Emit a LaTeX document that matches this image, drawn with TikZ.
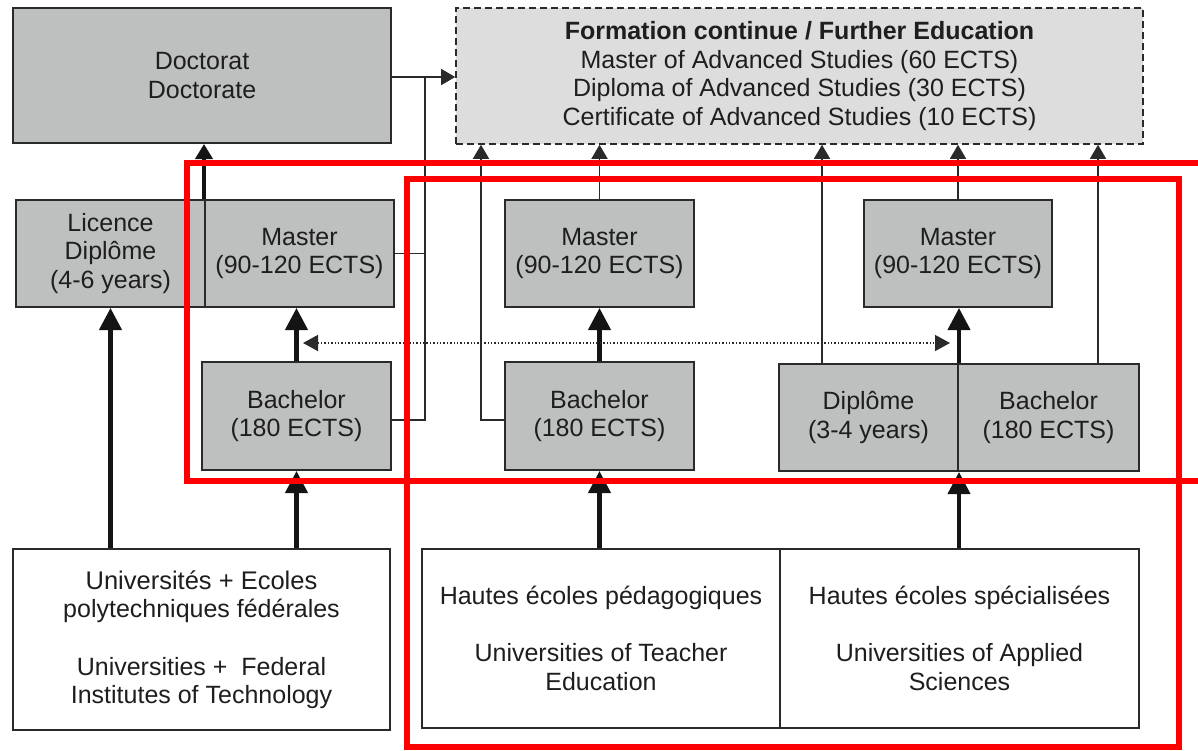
\documentclass[tikz,border=0pt]{standalone}
\usepackage{fontspec}
\setmainfont{Liberation Sans}
\usetikzlibrary{arrows.meta}
\definecolor{boxgray}{HTML}{BEC0BF}
\definecolor{fegray}{HTML}{DCDDDC}
\definecolor{edgecol}{HTML}{2A2A2A}
\definecolor{txtcol}{HTML}{1E1E1E}
\definecolor{redframe}{HTML}{FF0000}
\begin{document}
\begin{tikzpicture}[x=1pt,y=-1pt,
  every node/.style={font=\fontsize{25}{28.5}\selectfont, text=txtcol, align=center, inner sep=0pt},
  box/.style={draw=edgecol, line width=2pt, fill=boxgray, rectangle},
  febox/.style={draw=edgecol, line width=1.6pt, fill=fegray, dash pattern=on 7pt off 4pt, rectangle},
  whitebox/.style={draw=edgecol, line width=2pt, fill=white, rectangle},
  thinline/.style={draw=edgecol, line width=1.5pt},
  thinarrow/.style={draw=edgecol, line width=1.5pt, -{Triangle[width=16pt,length=14pt]}},
  thickarrow/.style={draw=black!92, line width=4.2pt, -{Triangle[width=22pt,length=22pt]}},
  doctarrow/.style={draw=black!92, line width=4.2pt, -{Triangle[width=17pt,length=15pt]}},
  dotline/.style={draw=edgecol, line width=1.4pt, dotted, {Triangle[width=16pt,length=15pt]}-{Triangle[width=16pt,length=15pt]}},
  redbox/.style={draw=redframe, line width=6.3pt}
]
\useasboundingbox (0,0) rectangle (1198,750);
\clip (0,0) rectangle (1198,750);
\fill[white] (0,0) rectangle (1198,750);

% top row
\node[box, minimum width=378pt, minimum height=135pt] (Doctorat) at (202,75.5) {Doctorat\\Doctorate};
\node[febox, minimum width=687pt, minimum height=136pt] (FE) at (799.5,76)
  {\textbf{Formation continue / Further Education}\\Master of Advanced Studies (60 ECTS)\\Diploma of Advanced Studies (30 ECTS)\\Certificate of Advanced Studies (10 ECTS)};

% master row
\node[box, minimum width=189pt, minimum height=107pt] (Licence) at (110.5,253.5) {Licence\\Diplôme\\(4-6 years)};
\node[box, minimum width=189pt, minimum height=107pt] (Master1) at (299.5,253.5) {Master\\(90-120 ECTS)};
\node[box, minimum width=189pt, minimum height=107pt] (Master2) at (599.5,253.5) {Master\\(90-120 ECTS)};
\node[box, minimum width=188pt, minimum height=107pt] (Master3) at (958,253.5) {Master\\(90-120 ECTS)};

% bachelor row
\node[box, minimum width=189pt, minimum height=108pt] (Bachelor1) at (296.5,416) {Bachelor\\(180 ECTS)};
\node[box, minimum width=189pt, minimum height=108pt] (Bachelor2) at (599.5,416) {Bachelor\\(180 ECTS)};
\node[box, minimum width=179pt, minimum height=107pt] (Diplome) at (868.5,417.5) {Diplôme\\(3-4 years)};
\node[box, minimum width=181pt, minimum height=107pt] (Bachelor3) at (1048.5,417.5) {Bachelor\\(180 ECTS)};

% institutions
\node[whitebox, minimum width=377pt, minimum height=181pt] (Uni) at (201.5,639.5)
  {\fontsize{25.5}{29}\selectfont Universités + Ecoles\\polytechniques fédérales\\[29pt]Universities +\ \ Federal\\Institutes of Technology};
\node[whitebox, minimum width=358pt, minimum height=179pt] (HEP) at (601,638.5)
  {Hautes écoles pédagogiques\\[28.5pt]Universities of Teacher\\Education};
\node[whitebox, minimum width=359pt, minimum height=179pt] (HES) at (959.5,638.5)
  {Hautes écoles spécialisées\\[28.5pt]Universities of Applied\\Sciences};

% thick progression arrows
\draw[thickarrow] (Licence.south |- Uni.north) -- (Licence.south);
\draw[thickarrow] (Bachelor1.south |- Uni.north) -- (Bachelor1.south);
\draw[thickarrow] (Bachelor1.north) -- (Bachelor1.north |- Master1.south);
\draw[doctarrow] (Master1.north west) -- (Master1.north west |- Doctorat.south);
\draw[thickarrow] (Bachelor2.south |- HEP.north) -- (Bachelor2.south);
\draw[thickarrow] (Bachelor2.north) -- (Master2.south);
\draw[thickarrow] (Diplome.south east |- HES.north) -- (Diplome.south east);
\draw[thickarrow] (Diplome.north east) -- (Diplome.north east |- Master3.south);

% dotted equivalence arrow
\coordinate (dl) at (303,343);
\coordinate (dr) at (950,343);
\draw[dotline] (dl) -- (dr);

% thin connectors to further education
\coordinate (jx) at (425,0);
\coordinate (f1) at (481,0);
\coordinate (f3) at (822,0);
\coordinate (f5) at (1098,0);
\draw[thinarrow] ([yshift=-1.5pt]Doctorat.east) -- ([yshift=-1.5pt]Doctorat.east -| FE.west);
\draw[thinline] ([yshift=-4pt]Bachelor1.east) -| ([yshift=-1.5pt]jx |- Doctorat.east);
\draw[thinline] (Master1.east) -- (Master1.east -| jx);
\draw[thinarrow] ([yshift=-4pt]Bachelor2.west) -| (f1 |- FE.south);
\draw[thinarrow] (Master2.north) -- (Master2.north |- FE.south);
\draw[thinarrow] (f3 |- Diplome.north) -- (f3 |- FE.south);
\draw[thinarrow] (Master3.north) -- (Master3.north |- FE.south);
\draw[thinarrow] (f5 |- Bachelor3.north) -- (f5 |- FE.south);

% red highlight frames
\draw[redbox] (187,163) rectangle (1215,481);
\draw[redbox] (407,179) rectangle (1179,747);
\end{tikzpicture}
\end{document}
